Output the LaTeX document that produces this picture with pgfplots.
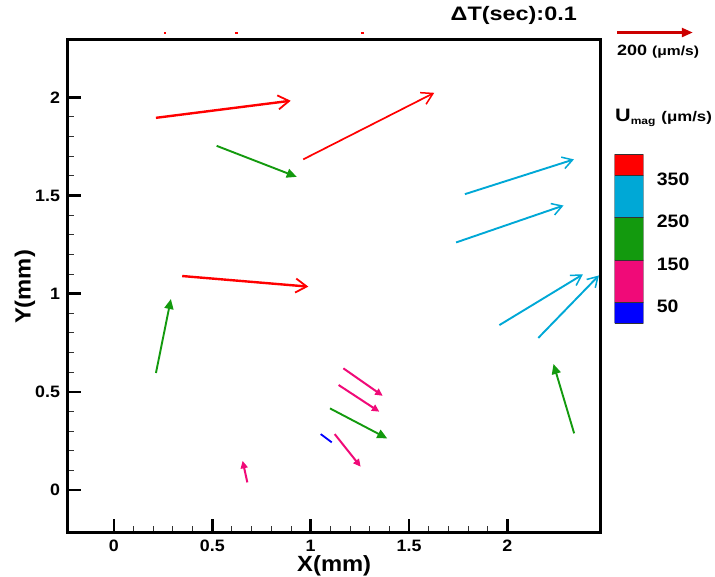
\documentclass[border=0pt]{standalone}
\usepackage{fontspec}
\setmainfont{Liberation Sans}
\newfontfamily\wide[FakeStretch=1.2]{Liberation Sans}
\newfontfamily\semiwide[FakeStretch=1.08]{Liberation Sans}
\usepackage{pgfplots}
\pgfplotsset{compat=1.18}
\usetikzlibrary{arrows.meta}
\definecolor{vRed}{HTML}{FF0000}
\definecolor{vCyan}{HTML}{00A8D6}
\definecolor{vGreen}{HTML}{139A0E}
\definecolor{vPink}{HTML}{F00A78}
\definecolor{vBlue}{HTML}{0000FF}
\definecolor{vRef}{HTML}{CC0000}

% arrows: x y (tail), u v (tail to head), in mm
\pgfplotstableread{
x      y      u      v
0.2135 1.8956 0.685  0.087
0.347  1.090  0.641  -0.054
}\redvec
\pgfplotstableread{
x      y      u      v
0.962  1.684  0.666  0.339
}\redvecthin
\pgfplotstableread{
x      y      u      v
1.784  1.507  0.554  0.177
1.739  1.261  0.546  0.188
1.959  0.840  0.424  0.258
2.157  0.775  0.308  0.318
}\cyanvec
\pgfplotstableread{
x      y      u      v
0.522  1.753  0.407  -0.158
0.2135 0.596  0.076  0.377
2.339  0.289  -0.105 0.353
1.098  0.416  0.291  -0.153
}\greenvec
\pgfplotstableread{
x      y      u      v
1.166  0.620  0.200  -0.140
1.142  0.535  0.207  -0.136
1.122  0.285  0.132  -0.166
0.678  0.039  -0.024 0.110
}\pinkvec
\pgfplotstableread{
x      y      u      v
1.051  0.285  0.056  -0.042
}\bluevec

\begin{document}
\begin{tikzpicture}
\useasboundingbox (0,0) rectangle (715pt,577pt);
\begin{axis}[
  at={(67.7pt,44.7pt)},anchor=south west,
  scale only axis,width=533pt,height=492.3pt,
  xmin=-0.235,xmax=2.474,ymin=-0.215,ymax=2.292,
  xtick={0,0.5,1,1.5,2},ytick={0,0.5,1,1.5,2},
  minor tick num=4,
  tick pos=left,tick align=inside,
  major tick length=13pt,minor tick length=6.5pt,
  major tick style={black,line width=2.6pt},
  minor tick style={black!80,line width=1pt},
  axis line style={line width=3pt},
  /pgf/number format/assume math mode=true,
  tick label style={font=\semiwide\fontsize{16.5}{16.5}\selectfont\bfseries,inner sep=0pt},
  xticklabel style={anchor=north,yshift=-7.5pt},
  yticklabel style={anchor=east,xshift=-7.5pt},
  clip mode=individual,
  every axis plot/.append style={no markers}
]
\addplot[vRed,line width=2.4pt,quiver={u=\thisrow{u},v=\thisrow{v}},
  -{Straight Barb[length=11pt,width=14pt,line width=1.8pt]}] table[x=x,y=y] {\redvec};
\addplot[vRed,line width=1.7pt,quiver={u=\thisrow{u},v=\thisrow{v}},
  -{Straight Barb[length=11pt,width=13pt,line width=1.5pt]}] table[x=x,y=y] {\redvecthin};
\addplot[vCyan,line width=1.9pt,quiver={u=\thisrow{u},v=\thisrow{v}},
  -{Straight Barb[length=10pt,width=12pt,line width=1.5pt]}] table[x=x,y=y] {\cyanvec};
\addplot[vGreen,line width=1.9pt,quiver={u=\thisrow{u},v=\thisrow{v}},
  -{Triangle[length=10pt,width=9pt]}] table[x=x,y=y] {\greenvec};
\addplot[vPink,line width=2pt,quiver={u=\thisrow{u},v=\thisrow{v}},
  -{Triangle[length=7.5pt,width=7pt]}] table[x=x,y=y] {\pinkvec};
\addplot[vBlue,line width=1.8pt,quiver={u=\thisrow{u},v=\thisrow{v}}] table[x=x,y=y] {\bluevec};
% reference vector (200 um/s)
\addplot[vRef,line width=2.4pt,clip=false,quiver={u=\thisrow{u},v=\thisrow{v}},
  -{Triangle[length=11pt,width=9pt]}] table {
x     y     u     v
2.557 2.330 0.385 0
};
% small clipped remnants above the frame
\addplot[vRed,line width=1.5pt,clip=false] coordinates {(0.255,2.327) (0.265,2.327)};
\addplot[vRed,line width=1.5pt,clip=false] coordinates {(0.615,2.327) (0.63,2.327)};
\addplot[vRed,line width=1.5pt,clip=false] coordinates {(1.255,2.327) (1.27,2.327)};
\end{axis}

% colour key
\begin{axis}[
  at={(614.7pt,253.7pt)},anchor=south west,
  scale only axis,width=28.6pt,height=169pt,
  xmin=0,xmax=1,ymin=0,ymax=400,
  axis line style={draw=none},
  xtick=\empty,ytick={50,150,250,350},
  ytick pos=right,major tick length=0pt,
  /pgf/number format/assume math mode=true,
  yticklabel style={font=\semiwide\fontsize{18}{18}\selectfont\bfseries,anchor=west,inner sep=0pt,xshift=13.4pt,yshift=-4pt}
]
\addplot[fill=vBlue,draw=black!80,line width=0.8pt] coordinates {(0,0) (1,0) (1,50) (0,50) (0,0)};
\addplot[fill=vPink,draw=black!80,line width=0.8pt] coordinates {(0,50) (1,50) (1,150) (0,150) (0,50)};
\addplot[fill=vGreen,draw=black!80,line width=0.8pt] coordinates {(0,150) (1,150) (1,250) (0,250) (0,150)};
\addplot[fill=vCyan,draw=black!80,line width=0.8pt] coordinates {(0,250) (1,250) (1,350) (0,350) (0,250)};
\addplot[fill=vRed,draw=black!80,line width=0.8pt] coordinates {(0,350) (1,350) (1,400) (0,400) (0,350)};
\end{axis}

\node[font=\semiwide\fontsize{22}{22}\selectfont\bfseries] at (334.2pt,11pt) {X(mm)};
\node[font=\semiwide\fontsize{22}{22}\selectfont\bfseries,rotate=90] at (25pt,290pt) {Y(mm)};
\node[font=\wide\fontsize{19.5}{19.5}\selectfont\bfseries,anchor=east,inner sep=0pt] at (577pt,562pt) {ΔT(sec):0.1};
\node[anchor=west,inner sep=0pt] at (617pt,525.3pt)
  {\wide\bfseries\fontsize{15}{15}\selectfont 200 {\fontsize{13}{13}\selectfont (μm/s)}};
\node[anchor=west,inner sep=0pt] at (615pt,459pt)
  {\wide\bfseries\fontsize{18}{18}\selectfont U\raisebox{-2.5pt}{\fontsize{10}{10}\selectfont mag} {\fontsize{14}{14}\selectfont (μm/s)}};
\end{tikzpicture}
\end{document}
